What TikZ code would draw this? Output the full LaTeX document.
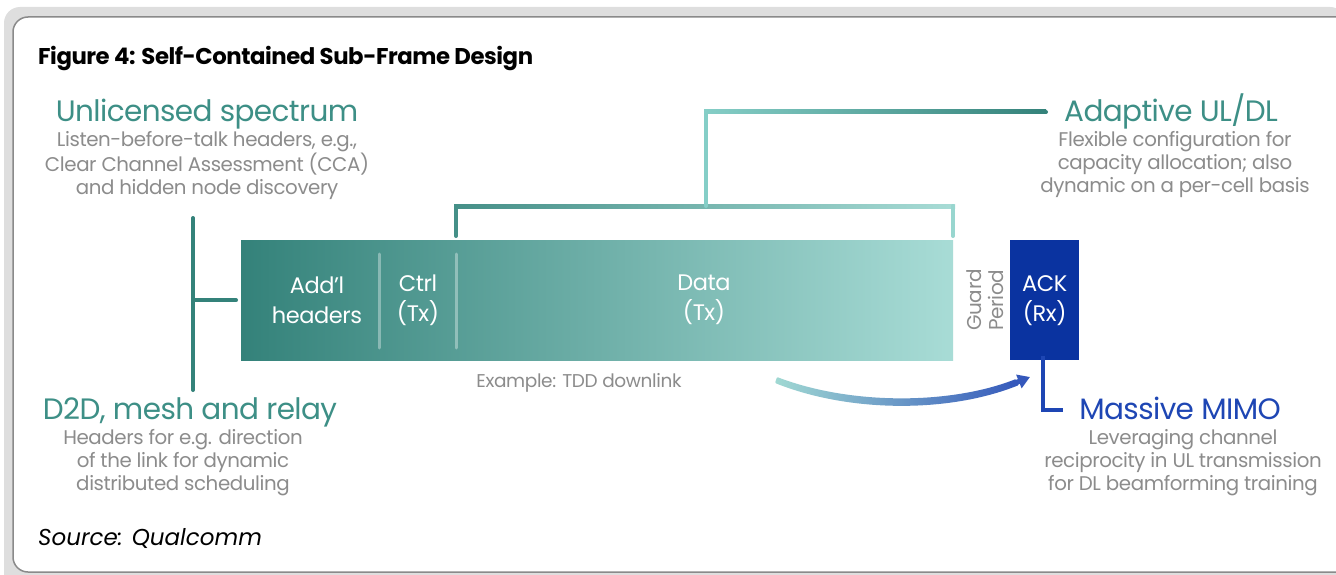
\documentclass[tikz,border=0pt]{standalone}
\usepackage{fontspec}
\setmainfont{Poppins}
\usetikzlibrary{arrows.meta}
\definecolor{tealdark}{HTML}{34827A}
\definecolor{tealmid}{HTML}{5BBDB4}
\definecolor{teallight}{HTML}{A8DCD6}
\definecolor{tealhead}{HTML}{3D8F86}
\definecolor{txtgrey}{HTML}{8C8C8C}
\definecolor{ackblue}{HTML}{0A33A0}
\definecolor{mimoblue}{HTML}{1E46B4}
\definecolor{cardgrey}{HTML}{DEDEDE}
\definecolor{cardedge}{HTML}{8A8A8A}
\tikzset{
  headtxt/.style={font=\fontsize{29.5}{34}\selectfont\addfontfeatures{LetterSpace=-2}, text=tealhead, inner sep=0pt},
  subtxt/.style={font=\fontsize{19.8}{23}\selectfont\addfontfeatures{LetterSpace=-2}, text=txtgrey, align=center, inner sep=0pt},
  cell/.style={font=\fontsize{22.5}{30}\selectfont\addfontfeatures{LetterSpace=-2}, text=white, align=center, inner sep=0pt},
  bracket/.style={line width=4pt, line cap=round},
  sep/.style={line width=3pt, white, opacity=0.35, line cap=round},
}
\begin{document}
\begin{tikzpicture}[x=1pt,y=-1pt]
\useasboundingbox (0,0) rectangle (1336,575);
\begin{scope}
\clip (0,0) rectangle (1336,575);
% card background and frame
\fill[cardgrey, rounded corners=16pt] (4,7) rectangle (1346,600);
\filldraw[fill=white, draw=cardedge, line width=1.5pt, rounded corners=15pt] (13,17) rectangle (1360,572);
\end{scope}

% title and source
\node[anchor=base west, inner sep=0pt, font=\fontsize{22.8}{26}\selectfont\bfseries\addfontfeatures{LetterSpace=-2}] (title) at (38,65) {Figure 4: Self-Contained Sub-Frame Design};
\node[anchor=base west, inner sep=0pt, font=\fontsize{23}{26}\selectfont\itshape] (source) at (38,545) {Source: Qualcomm};

% frame bar
\node[minimum width=712pt, minimum height=120pt, inner sep=0pt, anchor=north west,
      left color=tealdark, middle color=tealmid, right color=teallight] (bar) at (241,240) {};
\node[minimum width=69pt, minimum height=120pt, inner sep=0pt, anchor=north west, fill=ackblue] (ack) at (1010,240) {};
\draw[sep] (379,254) -- (379,348);
\draw[sep] (456,254) -- (456,348);
\node[cell] (hdr) at (317,300) {Add’l\\headers};
\node[cell] (ctrl) at (418,300) {Ctrl\\(Tx)};
\node[cell] (data) at (704,300) {Data\\(Tx)};
\node[cell] (acktxt) at (ack.center) {ACK\\(Rx)};
\node[rotate=90, font=\fontsize{20}{22}\selectfont\addfontfeatures{LetterSpace=-2}, text=txtgrey, align=center, inner sep=0pt] (guard) at (985,300) {Guard\\Period};
\node[font=\fontsize{18.5}{20}\selectfont\addfontfeatures{LetterSpace=-2}, text=txtgrey, inner sep=0pt] (example) at (579,383) {Example: TDD downlink};

% headings
\node[headtxt, anchor=base] (unl) at (207,122) {Unlicensed spectrum};
\node[subtxt, anchor=north] (unlsub) at (207,131) {Listen-before-talk headers, e.g.,\\Clear Channel Assessment (CCA)\\and hidden node discovery};
\node[headtxt, anchor=base] (d2d) at (190,419) {D2D, mesh and relay};
\node[subtxt, anchor=north] (d2dsub) at (183,429) {Headers for e.g. direction\\of the link for dynamic\\distributed scheduling};
\node[headtxt, anchor=base] (adapt) at (1171,122) {Adaptive UL/DL};
\node[subtxt, anchor=north] (adaptsub) at (1175,131) {Flexible configuration for\\capacity allocation; also\\dynamic on a per-cell basis};
\node[headtxt, anchor=base, text=mimoblue] (mimo) at (1180,419) {Massive MIMO};
\node[subtxt, anchor=north] (mimosub) at (1183,429) {Leveraging channel\\reciprocity in UL transmission\\for DL beamforming training};

% left bracket
\coordinate (lb) at ([xshift=-48pt]bar.west);
\draw[bracket, tealdark] (lb |- 0,218) -- (lb |- 0,390);
\draw[bracket, tealdark] (lb) -- ([xshift=-5pt]bar.west);

% upper bracket over ctrl + data
\coordinate (ub1) at (456,206);
\coordinate (ub2) at (953,206);
\coordinate (ubm) at (706,206);
\coordinate (ubt) at (706,112);
\shade[left color=tealdark!85!teallight, right color=teallight] (ub1) ++(-2,-2) rectangle ([shift={(2,2)}]ub2);
\draw[bracket, tealdark!85!teallight] (ub1) -- (456,236);
\draw[bracket, teallight!80!tealmid] (ub2) -- (953,236);
\draw[bracket, tealmid!45!teallight] (ubm) -- (ubt);
\shade[left color=tealmid!45!teallight, right color=tealdark] ([shift={(-2,-2)}]ubt) rectangle (1046,114);
\fill[tealdark] (1046,112) circle (2pt);

% massive MIMO bracket
\draw[bracket, mimoblue, line cap=butt] ([yshift=4pt]ack.south -| 1043,0) -- (1043,410) -- (1063,410);

% curved arrow toward ACK
\coordinate (cs) at (777,380);
\coordinate (ce) at (1020,382);
\shade[left color=teallight!90!tealmid, right color=mimoblue!90!white, rounded corners=1pt]
  (777,377) .. controls (850,405) and (950,405) .. (1016,379)
  -- (1019,385) .. controls (950,413) and (850,413) .. (775,383) -- cycle;
\draw[mimoblue!90!white, line width=5pt, -{Triangle[length=12pt,width=14pt]}] (1010,385) -- (1030,377);
\end{tikzpicture}
\end{document}
